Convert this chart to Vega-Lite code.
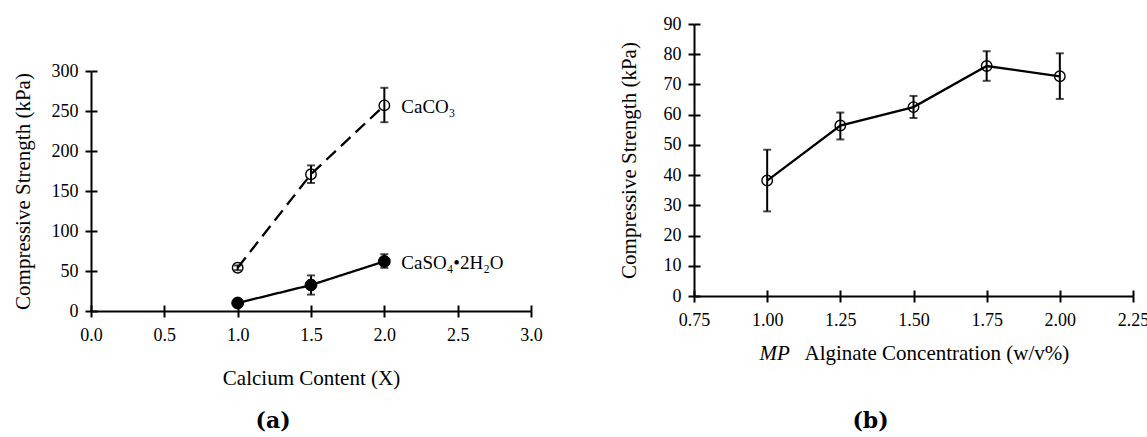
{
  "$schema": "https://vega.github.io/schema/vega-lite/v6.json",
  "background": "white",
  "padding": {"left": 12, "top": 15, "right": 0, "bottom": 0},
  "config": {
    "font": "Liberation Serif",
    "view": {"stroke": null},
    "style": {
      "guide-label": {"font": "Liberation Serif", "fontSize": 18, "fill": "black"},
      "guide-title": {"font": "Liberation Serif", "fontSize": 21, "fill": "black", "fontWeight": "normal"}
    },
    "axis": {
      "grid": false,
      "domainColor": "black",
      "domainWidth": 2,
      "tickColor": "black",
      "tickWidth": 2,
      "labelColor": "black",
      "titleColor": "black",
      "labelFont": "Liberation Serif",
      "titleFont": "Liberation Serif",
      "labelFontSize": 18,
      "titleFontSize": 21,
      "titleFontWeight": "normal",
      "labelFlush": false,
      "labelOverlap": false
    },
    "title": {"font": "DejaVu Serif", "fontWeight": "bold", "fontSize": 22, "color": "black", "baseline": "top"},
    "concat": {"spacing": 74}
  },
  "hconcat": [
    {
      "width": 440,
      "height": 287,
      "title": {"text": "(a)", "orient": "bottom", "anchor": "middle", "dx": -38, "offset": 23},
      "data": {
        "values": [
          {"series": "CaCO3", "calcium": 1.0, "strength": 54, "low": 51, "high": 57, "label": null},
          {"series": "CaCO3", "calcium": 1.5, "strength": 171, "low": 160, "high": 182, "label": null},
          {"series": "CaCO3", "calcium": 2.0, "strength": 257, "low": 236, "high": 279, "label": "CaCO₃"},
          {"series": "CaSO4", "calcium": 1.0, "strength": 10, "low": 10, "high": 10, "label": null},
          {"series": "CaSO4", "calcium": 1.5, "strength": 32.5, "low": 20.5, "high": 44.5, "label": null},
          {"series": "CaSO4", "calcium": 2.0, "strength": 62, "low": 54, "high": 71, "label": "CaSO₄•2H₂O"}
        ]
      },
      "resolve": {"axis": {"x": "independent", "y": "independent"}},
      "layer": [
        {
          "mark": {"type": "line", "color": "black", "strokeWidth": 2.3},
          "encoding": {
            "x": {"field": "calcium", "type": "quantitative", "scale": {"domain": [0, 3]},
              "axis": {"orient": "bottom", "values": [0, 0.5, 1, 1.5, 2, 2.5, 3], "format": ".1f", "tickSize": 6, "labelPadding": 9,
                "labelFont": "Liberation Serif", "labelFontSize": 18, "titleFont": "Liberation Serif", "titleFontSize": 21,
                "title": "Calcium Content (X)", "titleY": 73, "titleBaseline": "alphabetic"}},
            "y": {"field": "strength", "type": "quantitative", "scale": {"domain": [0, 300], "range": [287, 47]},
              "axis": {"orient": "left", "values": [0, 50, 100, 150, 200, 250, 300], "tickSize": 6, "labelPadding": 7,
                "labelFont": "Liberation Serif", "labelFontSize": 18, "titleFont": "Liberation Serif", "titleFontSize": 21,
                "title": "Compressive Strength (kPa)", "titleX": -68, "titleBaseline": "middle"}},
            "strokeDash": {"field": "series", "type": "nominal",
              "scale": {"domain": ["CaCO3", "CaSO4"], "range": [[13, 7], [1, 0]]}, "legend": null}
          }
        },
        {
          "mark": {"type": "errorbar", "color": "black", "thickness": 2, "ticks": {"size": 8, "thickness": 2, "color": "black"}},
          "encoding": {
            "x": {"field": "calcium", "type": "quantitative", "scale": {"domain": [0, 3]}, "axis": null},
            "y": {"field": "low", "type": "quantitative", "scale": {"domain": [0, 300], "range": [287, 47]}, "axis": null},
            "y2": {"field": "high"}
          }
        },
        {
          "transform": [{"filter": "datum.series === 'CaCO3'"}],
          "mark": {"type": "point", "shape": "circle", "filled": false, "stroke": "black", "strokeWidth": 1.4, "size": 110, "opacity": 1},
          "encoding": {
            "x": {"field": "calcium", "type": "quantitative", "scale": {"domain": [0, 3]}, "axis": null},
            "y": {"field": "strength", "type": "quantitative", "scale": {"domain": [0, 300], "range": [287, 47]}, "axis": null}
          }
        },
        {
          "transform": [{"filter": "datum.series === 'CaSO4'"}],
          "mark": {"type": "point", "shape": "circle", "filled": true, "fill": "black", "stroke": "black", "strokeWidth": 1, "size": 140, "opacity": 1},
          "encoding": {
            "x": {"field": "calcium", "type": "quantitative", "scale": {"domain": [0, 3]}, "axis": null},
            "y": {"field": "strength", "type": "quantitative", "scale": {"domain": [0, 300], "range": [287, 47]}, "axis": null}
          }
        },
        {
          "transform": [{"filter": "datum.label != null"}],
          "mark": {"type": "text", "align": "left", "baseline": "middle", "dx": 17, "dy": 2, "fontSize": 19, "font": "Liberation Serif", "color": "black"},
          "encoding": {
            "x": {"field": "calcium", "type": "quantitative", "scale": {"domain": [0, 3]},
              "axis": {"orient": "bottom", "values": [0, 0.5, 1, 1.5, 2, 2.5, 3], "tickSize": -6, "labels": false, "domain": false, "title": null}},
            "y": {"field": "strength", "type": "quantitative", "scale": {"domain": [0, 300], "range": [287, 47]},
              "axis": {"orient": "left", "values": [0, 50, 100, 150, 200, 250, 300], "tickSize": -6, "labels": false, "domain": false, "title": null}},
            "text": {"field": "label", "type": "nominal"}
          }
        }
      ]
    },
    {
      "width": 439,
      "height": 272,
      "title": {"text": "(b)", "orient": "bottom", "anchor": "middle", "dx": -43, "offset": 48},
      "data": {
        "values": [
          {"concentration": 1.0, "strength": 38.2, "low": 28.0, "high": 48.4},
          {"concentration": 1.25, "strength": 56.4, "low": 51.8, "high": 60.7},
          {"concentration": 1.5, "strength": 62.5, "low": 58.9, "high": 66.2},
          {"concentration": 1.75, "strength": 76.1, "low": 71.2, "high": 81.0},
          {"concentration": 2.0, "strength": 72.7, "low": 65.2, "high": 80.3}
        ]
      },
      "resolve": {"axis": {"x": "independent", "y": "independent"}},
      "layer": [
        {
          "mark": {"type": "line", "color": "black", "strokeWidth": 2.3},
          "encoding": {
            "x": {"field": "concentration", "type": "quantitative", "scale": {"domain": [0.75, 2.25]},
              "axis": {"orient": "bottom", "values": [0.75, 1, 1.25, 1.5, 1.75, 2, 2.25], "format": ".2f", "tickSize": 6, "labelPadding": 9,
                "labelFont": "Liberation Serif", "labelFontSize": 18, "titleFont": "Liberation Serif", "titleFontSize": 21,
                "title": "Alginate Concentration (w/v%)", "titleX": 110, "titleAlign": "left", "titleY": 63, "titleBaseline": "alphabetic"}},
            "y": {"field": "strength", "type": "quantitative", "scale": {"domain": [0, 90]},
              "axis": {"orient": "left", "values": [0, 10, 20, 30, 40, 50, 60, 70, 80, 90], "tickSize": 6, "labelPadding": 7,
                "labelFont": "Liberation Serif", "labelFontSize": 18, "titleFont": "Liberation Serif", "titleFontSize": 21,
                "title": "Compressive Strength (kPa)", "titleX": -65, "titleBaseline": "middle"}}
          }
        },
        {
          "mark": {"type": "errorbar", "color": "black", "thickness": 2, "ticks": {"size": 8, "thickness": 2, "color": "black"}},
          "encoding": {
            "x": {"field": "concentration", "type": "quantitative", "scale": {"domain": [0.75, 2.25]}, "axis": null},
            "y": {"field": "low", "type": "quantitative", "scale": {"domain": [0, 90]}, "axis": null},
            "y2": {"field": "high"}
          }
        },
        {
          "mark": {"type": "point", "shape": "circle", "filled": false, "stroke": "black", "strokeWidth": 1.4, "size": 110, "opacity": 1},
          "encoding": {
            "x": {"field": "concentration", "type": "quantitative", "scale": {"domain": [0.75, 2.25]},
              "axis": {"orient": "bottom", "values": [0.75, 1, 1.25, 1.5, 1.75, 2, 2.25], "tickSize": -6, "labels": false, "domain": false,
                "titleFont": "Liberation Serif", "titleFontSize": 21,
                "title": "MP", "titleFontStyle": "italic", "titleX": 65, "titleAlign": "left", "titleY": 63, "titleBaseline": "alphabetic"}},
            "y": {"field": "strength", "type": "quantitative", "scale": {"domain": [0, 90]},
              "axis": {"orient": "left", "values": [0, 10, 20, 30, 40, 50, 60, 70, 80, 90], "tickSize": -6, "labels": false, "domain": false, "title": null}}
          }
        }
      ]
    }
  ]
}
